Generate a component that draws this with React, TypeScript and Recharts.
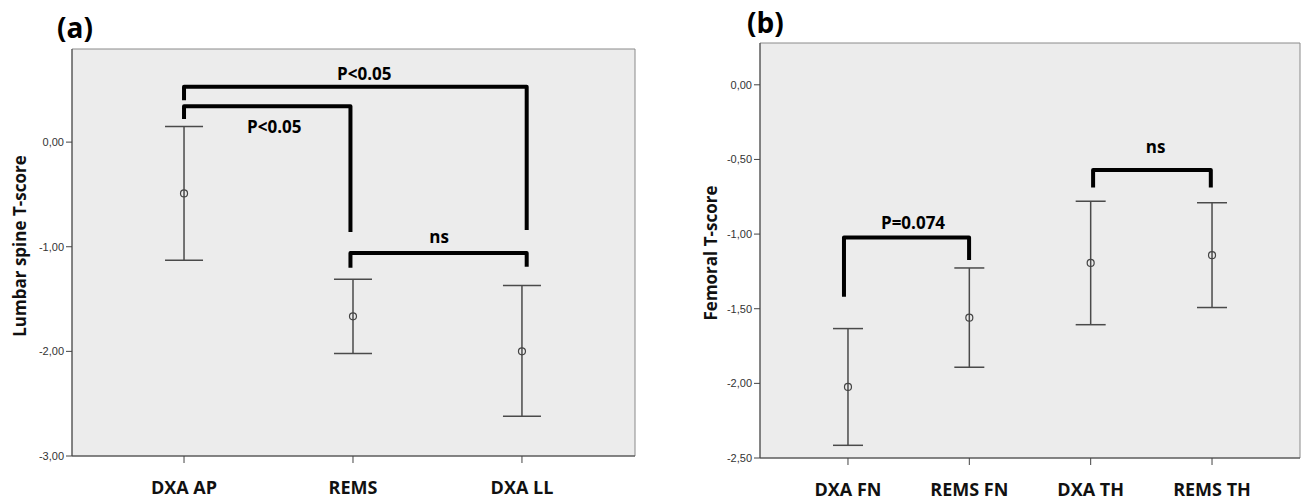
import {
  ErrorBar,
  ReferenceArea,
  ReferenceDot,
  Scatter,
  ScatterChart,
  XAxis,
  YAxis,
} from "recharts";

// (a) lumbar spine
const lumbarSites = ["DXA AP", "REMS", "DXA LL"];
const lumbarMean = [-0.49, -1.665, -2.0];
const lumbarLow = [-1.13, -2.02, -2.62];
const lumbarHigh = [0.15, -1.31, -1.37];
const lumbarTicks = [0, -1, -2, -3];

// (b) femoral
const femoralSites = ["DXA FN", "REMS FN", "DXA TH", "REMS TH"];
const femoralMean = [-2.024, -1.56, -1.193, -1.141];
const femoralLow = [-2.415, -1.892, -1.607, -1.492];
const femoralHigh = [-1.633, -1.227, -0.78, -0.79];
const femoralTicks = [0, -0.5, -1, -1.5, -2, -2.5];

// comparison brackets, in category / T-score units
const lumbarBrackets = [
  { from: 0, to: 2.028, top: 0.53, leftEnd: 0.4, rightEnd: -0.84 },
  { from: 0, to: 0.985, top: 0.344, leftEnd: 0.22, rightEnd: -0.86 },
  { from: 0.985, to: 2.028, top: -1.06, leftEnd: -1.2, rightEnd: -1.19 },
];
const lumbarNotes = [
  { text: "P<0.05", x: 1.067, y: 0.65 },
  { text: "P<0.05", x: 0.534, y: 0.146 },
  { text: "ns", x: 1.51, y: -0.903 },
];

const femoralBrackets = [
  { from: -0.033, to: 0.998, top: -1.023, leftEnd: -1.419, rightEnd: -1.173 },
  { from: 2.02, to: 2.99, top: -0.57, leftEnd: -0.688, rightEnd: -0.688 },
];
const femoralNotes = [
  { text: "P=0.074", x: 0.536, y: -0.923 },
  { text: "ns", x: 2.535, y: -0.419 },
];

const fmt = (v: number) => v.toFixed(2).replace(".", ",");

const MeanDot = (p: any) => (
  <circle cx={p.cx} cy={p.cy} r={3.5} fill="none" stroke="#444" strokeWidth={1.2} />
);
const NoDot = () => <g />;

const AxisTitle = ({ text, cx, cy }: { text: string; cx: number; cy: number }) => (
  <text
    x={cx}
    y={cy}
    transform={`rotate(-90 ${cx} ${cy})`}
    textAnchor="middle"
    dominantBaseline="central"
    fontFamily="Open Sans"
    fontWeight={700}
    fontSize={17}
    fill="#111"
  >
    {text}
  </text>
);

type PanelProps = {
  sites: string[];
  mean: number[];
  low: number[];
  high: number[];
  ticks: number[];
  brackets: typeof lumbarBrackets;
  notes: typeof lumbarNotes;
  width: number;
  yDomain: [number, number];
  xDomain: [number, number];
  axisWidth: number;
  margin: { top: number; right: number; left: number; bottom: number };
  xAxisHeight: number;
  tickMargin: number;
  capWidth: number;
  title: string;
  titleX: number;
  titleY: number;
};

const Panel = (p: PanelProps) => {
  const points = p.mean.map((m, i) => ({
    x: i,
    y: m,
    err: [m - p.low[i], p.high[i] - m],
  }));

  return (
    <ScatterChart width={p.width} height={500} margin={p.margin}>
      <ReferenceArea
        x1={p.xDomain[0]}
        x2={p.xDomain[1]}
        y1={p.yDomain[0]}
        y2={p.yDomain[1]}
        fill="#ececec"
        fillOpacity={1}
        stroke="#8a8a8a"
        ifOverflow="visible"
      />
      <XAxis
        type="number"
        dataKey="x"
        domain={p.xDomain}
        ticks={p.sites.map((_, i) => i)}
        tickFormatter={(v: number) => p.sites[v]}
        interval={0}
        allowDataOverflow
        height={p.xAxisHeight}
        tickSize={7}
        tickMargin={p.tickMargin}
        stroke="#444"
        tick={{ fill: "#111", fontSize: 18, fontWeight: 700, fontFamily: "Open Sans" }}
      />
      <YAxis
        type="number"
        dataKey="y"
        domain={p.yDomain}
        ticks={p.ticks}
        tickFormatter={fmt}
        interval={0}
        allowDataOverflow
        width={p.axisWidth}
        tickSize={6}
        tickMargin={2}
        stroke="#444"
        tick={{ fill: "#333", fontSize: 11, fontFamily: "Liberation Sans" }}
        label={<AxisTitle text={p.title} cx={p.titleX} cy={p.titleY} />}
      />
      {p.brackets.map((b, i) => (
        <Scatter
          key={`br${i}`}
          data={[
            { x: b.from, y: b.leftEnd },
            { x: b.from, y: b.top },
            { x: b.to, y: b.top },
            { x: b.to, y: b.rightEnd },
          ]}
          line={{ stroke: "#000", strokeWidth: 4, strokeLinejoin: "round" }}
          shape={NoDot}
          isAnimationActive={false}
        />
      ))}
      <Scatter data={points} shape={MeanDot} isAnimationActive={false}>
        <ErrorBar
          dataKey="err"
          direction="y"
          width={p.capWidth}
          stroke="#4a4a4a"
          strokeWidth={1.5}
          isAnimationActive={false}
        />
      </Scatter>
      {p.notes.map((n, i) => (
        <ReferenceDot
          key={`n${i}`}
          x={n.x}
          y={n.y}
          r={0}
          fill="none"
          stroke="none"
          ifOverflow="visible"
          label={{
            value: n.text,
            position: "center",
            fill: "#000",
            fontSize: 17,
            fontWeight: 700,
            fontFamily: "Open Sans",
          }}
        />
      ))}
    </ScatterChart>
  );
};

const panelTitle = {
  position: "absolute" as const,
  fontFamily: "Open Sans",
  fontWeight: 700,
  fontSize: 28,
  lineHeight: "28px",
  color: "#000",
};

export default function App() {
  return (
    <div style={{ position: "absolute", left: 0, top: 0, width: 1301, height: 500, background: "#fff" }}>
      <div style={{ position: "absolute", left: 0, top: 0 }}>
        <Panel
          sites={lumbarSites}
          mean={lumbarMean}
          low={lumbarLow}
          high={lumbarHigh}
          ticks={lumbarTicks}
          brackets={lumbarBrackets}
          notes={lumbarNotes}
          width={650}
          yDomain={[-3, 0.89]}
          xDomain={[-0.663, 2.669]}
          axisWidth={72}
          margin={{ top: 49, right: 15, left: 0, bottom: 0 }}
          xAxisHeight={44}
          tickMargin={18}
          capWidth={19}
          title="Lumbar spine T-score"
          titleX={19}
          titleY={246}
        />
      </div>
      <div style={{ position: "absolute", left: 650, top: 0 }}>
        <Panel
          sites={femoralSites}
          mean={femoralMean}
          low={femoralLow}
          high={femoralHigh}
          ticks={femoralTicks}
          brackets={femoralBrackets}
          notes={femoralNotes}
          width={651}
          yDomain={[-2.5, 0.28]}
          xDomain={[-0.725, 3.725]}
          axisWidth={110}
          margin={{ top: 43, right: 1, left: 0, bottom: 0 }}
          xAxisHeight={42}
          tickMargin={18}
          capWidth={15}
          title="Femoral T-score"
          titleX={60}
          titleY={253}
        />
      </div>
      <div style={{ ...panelTitle, left: 57, top: 13 }}>(a)</div>
      <div style={{ ...panelTitle, left: 747, top: 8 }}>(b)</div>
    </div>
  );
}
